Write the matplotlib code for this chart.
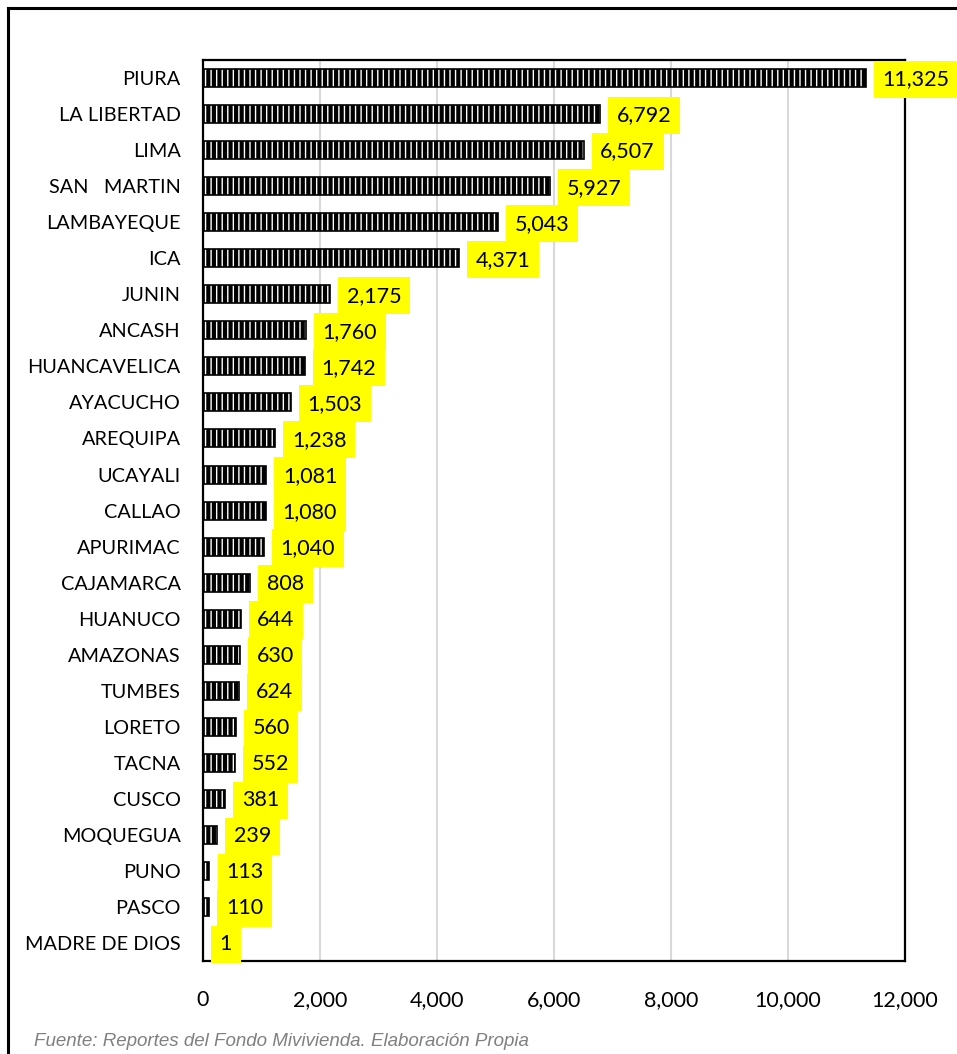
import matplotlib.pyplot as plt
from matplotlib.lines import Line2D
import numpy as np

regiones = ['PIURA', 'LA LIBERTAD', 'LIMA', 'SAN   MARTIN', 'LAMBAYEQUE', 'ICA',
            'JUNIN', 'ANCASH', 'HUANCAVELICA', 'AYACUCHO', 'AREQUIPA', 'UCAYALI',
            'CALLAO', 'APURIMAC', 'CAJAMARCA', 'HUANUCO', 'AMAZONAS', 'TUMBES',
            'LORETO', 'TACNA', 'CUSCO', 'MOQUEGUA', 'PUNO', 'PASCO', 'MADRE DE DIOS']
valores = [11325, 6792, 6507, 5927, 5043, 4371, 2175, 1760, 1742, 1503, 1238, 1081,
           1080, 1040, 808, 644, 630, 624, 560, 552, 381, 239, 113, 110, 1]
xticks = [0, 2000, 4000, 6000, 8000, 10000, 12000]

plt.rcParams['font.family'] = ['Lato', 'DejaVu Sans']
plt.rcParams['hatch.linewidth'] = 3.0

fig = plt.figure(figsize=(9.57, 10.54), dpi=100)
ax = fig.add_axes([0.212, 0.0882, 0.7337, 0.8548])

y = np.arange(len(regiones))
ax.barh(y, valores, height=0.5, color='white', edgecolor='black', hatch='|||',
        linewidth=1.2, zorder=3)

# etiquetas con fondo amarillo
for yi, v in zip(y, valores):
    ax.annotate('{:,}'.format(v), (v, yi), xytext=(12, -1), textcoords='offset points',
                ha='left', va='center', fontsize=15.5, annotation_clip=False, zorder=5,
                bbox=dict(boxstyle='square,pad=0.4', facecolor='#FFFF00', edgecolor='none'))

ax.set_yticks(y)
ax.set_yticklabels(regiones, fontsize=14.3)
ax.set_ylim(len(regiones) - 0.5, -0.5)
ax.set_xlim(0, 12000)
ax.set_xticks(xticks)
ax.set_xticklabels(['{:,}'.format(t) for t in xticks], fontsize=15.5)
ax.tick_params(axis='both', length=0)
ax.tick_params(axis='x', pad=21)
ax.tick_params(axis='y', pad=16)
ax.grid(axis='x', color='#d9d9d9', linewidth=1.5, zorder=0)
for s in ax.spines.values():
    s.set_linewidth(1.6)
    s.set_color('black')

fig.text(0.036, 0.008, 'Fuente: Reportes del Fondo Mivivienda. Elaboración Propia',
         fontsize=13.5, style='italic', color='#808080', family='Liberation Sans')

# marco del grafico
fig.add_artist(Line2D([0.0085, 1.0], [0.9925, 0.9925], color='black', linewidth=2.2))
fig.add_artist(Line2D([0.0085, 0.0085], [0.0, 0.9925], color='black', linewidth=2.2))

fig.savefig('out.png', dpi=100)
